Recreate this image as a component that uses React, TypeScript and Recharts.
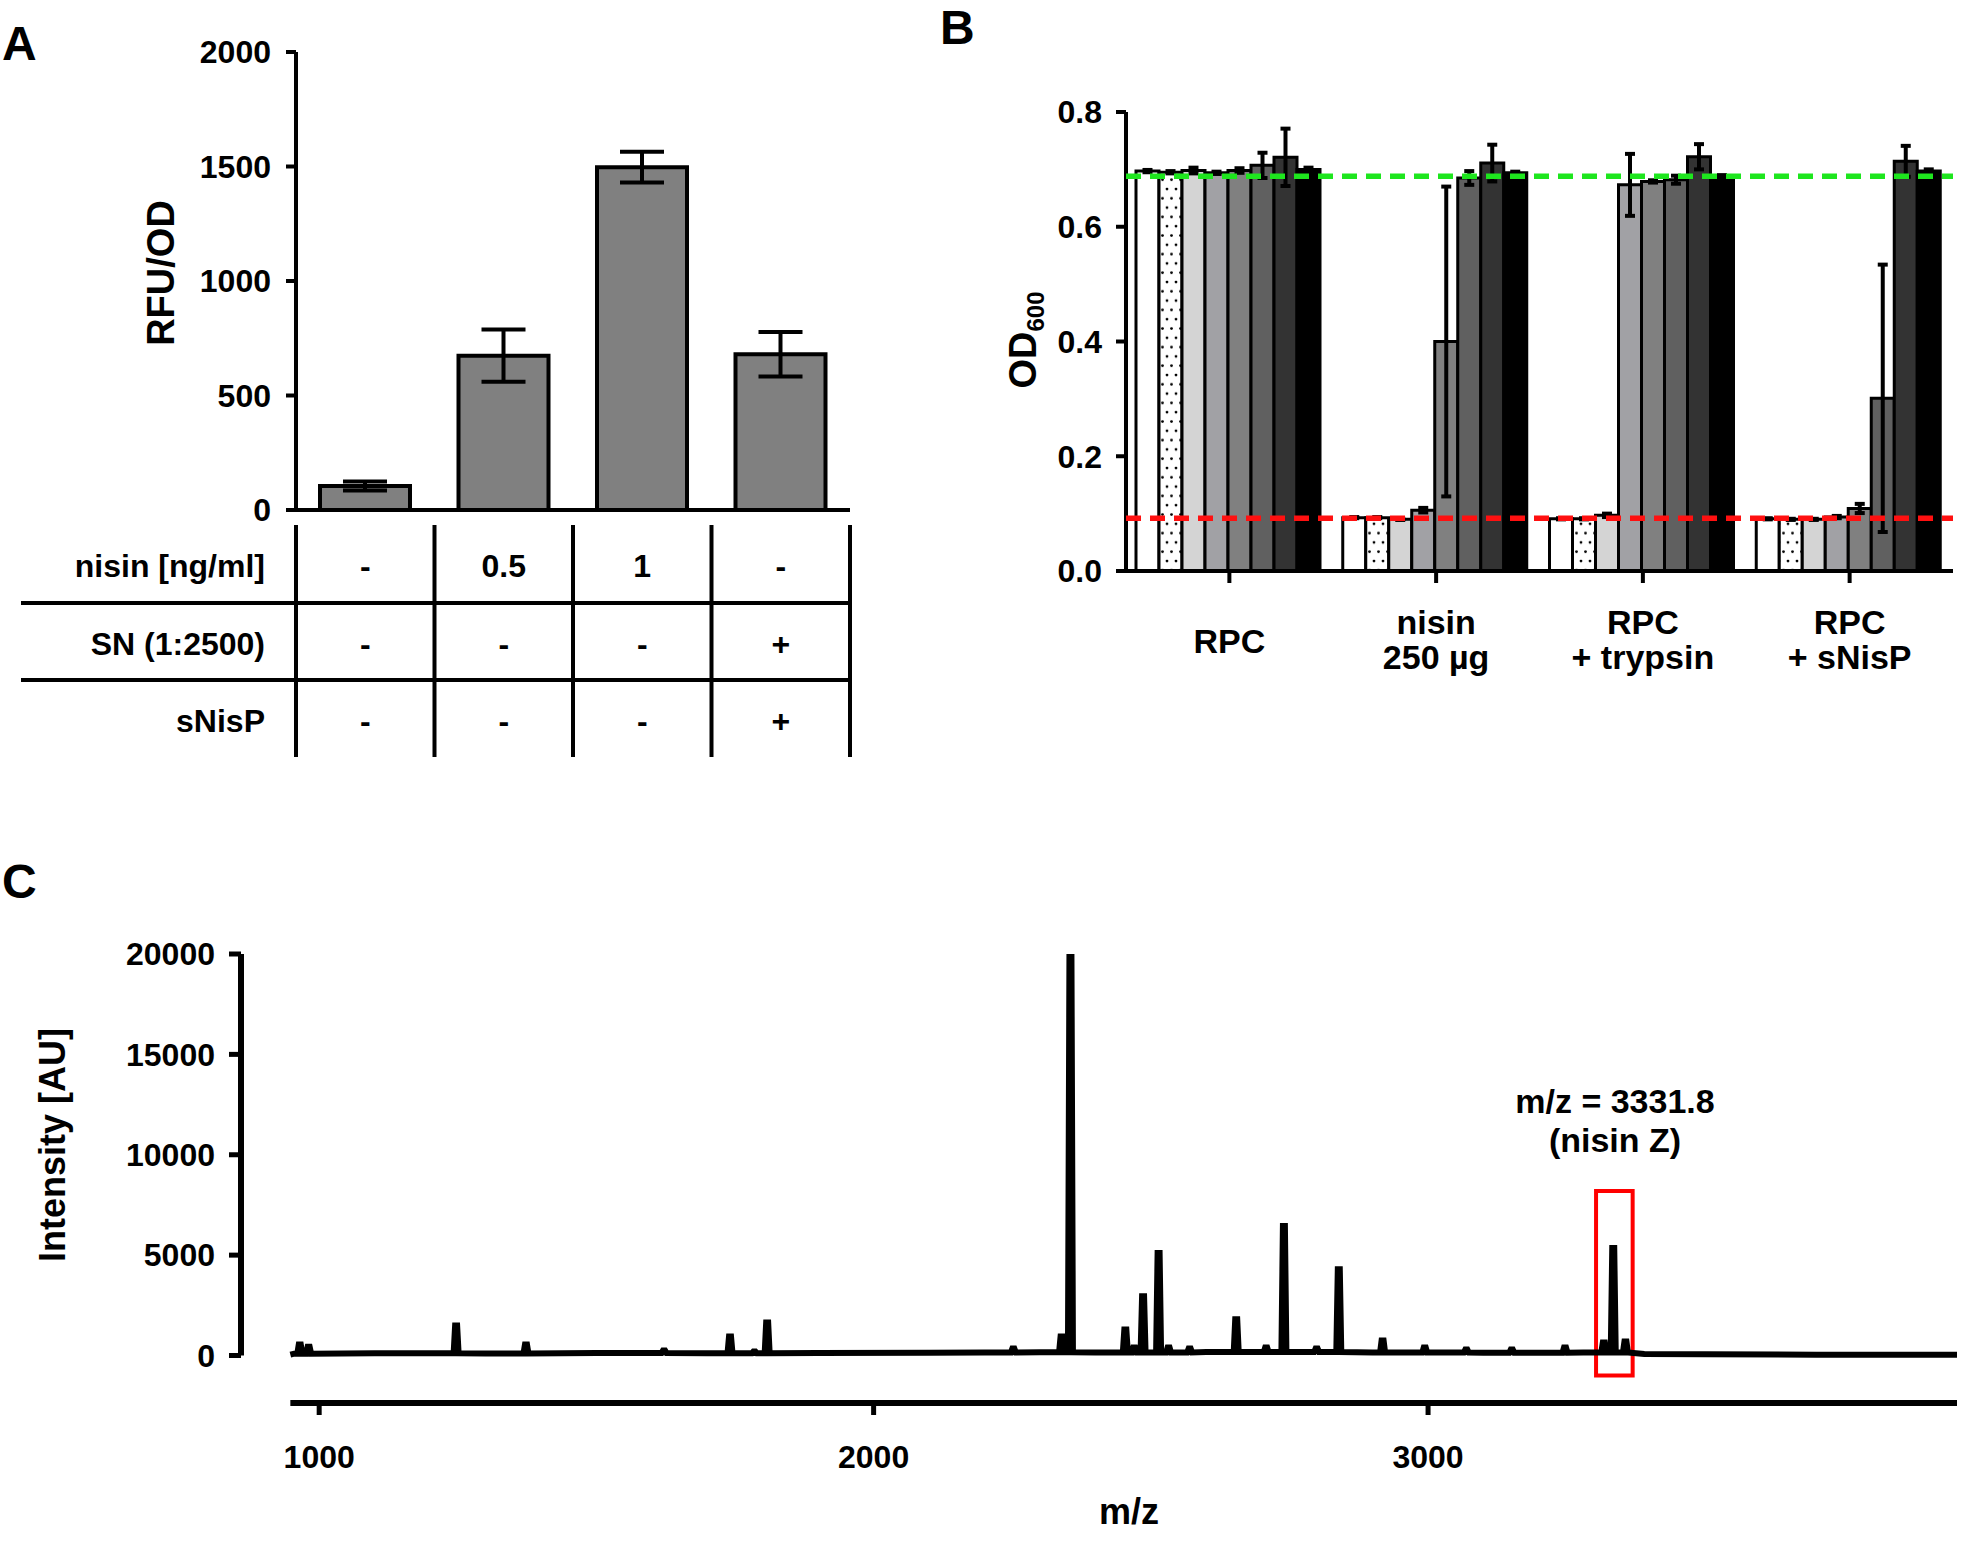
import React from "react";
import {
  BarChart,
  Bar,
  XAxis,
  YAxis,
  ErrorBar,
  ReferenceLine,
  ReferenceArea,
  LineChart,
  Line,
} from "recharts";

const FONT = "'Liberation Sans', Arial, Helvetica, sans-serif";

// ---------- Panel A ----------
const aCategories = ["ctrl", "nisin 0.5", "nisin 1", "SN + sNisP"];
const aValues = [105, 674, 1497, 680];
const aErrors = [20, 114, 67, 97];
const aTicks = [0, 500, 1000, 1500, 2000];

const tableLabels = ["nisin [ng/ml]", "SN (1:2500)", "sNisP"];
const tableNisin = ["-", "0.5", "1", "-"];
const tableSN = ["-", "-", "-", "+"];
const tableSNisP = ["-", "-", "-", "+"];

// ---------- Panel B ----------
const bGroups = ["RPC", "nisin 250 µg", "RPC + trypsin", "RPC + sNisP"];
const bGroupLines = [["RPC"], ["nisin", "250 µg"], ["RPC", "+ trypsin"], ["RPC", "+ sNisP"]];
const bTicks = [0, 0.2, 0.4, 0.6, 0.8];

const bWhite = [0.697, 0.093, 0.091, 0.091];
const bDotted = [0.695, 0.093, 0.091, 0.09];
const bLight = [0.698, 0.09, 0.097, 0.09];
const bGrayA = [0.694, 0.106, 0.673, 0.094];
const bGrayB = [0.698, 0.4, 0.679, 0.109];
const bGrayC = [0.707, 0.685, 0.682, 0.301];
const bDark = [0.721, 0.711, 0.722, 0.714];
const bBlack = [0.7, 0.694, 0.688, 0.697];

const bWhiteErr = [0.002, 0.001, 0.001, 0.001];
const bDottedErr = [0.002, 0.001, 0.001, 0.001];
const bLightErr = [0.005, 0.001, 0.003, 0.001];
const bGrayAErr = [0.002, 0.004, 0.054, 0.002];
const bGrayBErr = [0.004, 0.27, 0.002, 0.008];
const bGrayCErr = [0.022, 0.012, 0.007, 0.233];
const bDarkErr = [0.05, 0.032, 0.022, 0.027];
const bBlackErr = [0.003, 0.002, 0.002, 0.003];

const growthLevel = 0.688;
const noGrowthLevel = 0.092;

// ---------- Panel C ----------
const specBaseline: [number, number][] = [
  [948, 40], [955, 90], [1100, 110], [1300, 100], [1500, 120], [1700, 110],
  [1900, 130], [2100, 140], [2200, 150], [2300, 160], [2400, 150], [2600, 170],
  [2900, 150], [3100, 140], [3280, 150], [3390, 80], [3500, 60], [3700, 40], [3954, 40],
];
const specPeaks: [number, number][] = [
  [965, 550], [981, 430], [1247, 1500], [1373, 550], [1622, 250], [1741, 950],
  [1785, 200], [1808, 1650], [2252, 350], [2339, 950], [2355, 20000], [2454, 1300],
  [2470, 400], [2486, 2950], [2514, 5100], [2532, 400], [2570, 350], [2654, 1800],
  [2708, 400], [2740, 6450], [2799, 350], [2839, 4300], [2918, 750], [2994, 400],
  [3069, 300], [3151, 300], [3247, 400], [3317, 650], [3334, 5350], [3356, 700],
];
const cYTicks = [0, 5000, 10000, 15000, 20000];
const cXTicks = [1000, 2000, 3000];

const aData = aCategories.map((name, i) => ({ name, value: aValues[i], err: aErrors[i] }));

const bSeries = [
  { vals: bWhite, errs: bWhiteErr, fill: "#ffffff" },
  { vals: bDotted, errs: bDottedErr, fill: "url(#dots)" },
  { vals: bLight, errs: bLightErr, fill: "#d4d4d4" },
  { vals: bGrayA, errs: bGrayAErr, fill: "#a1a1a5" },
  { vals: bGrayB, errs: bGrayBErr, fill: "#808080" },
  { vals: bGrayC, errs: bGrayCErr, fill: "#606060" },
  { vals: bDark, errs: bDarkErr, fill: "#333333" },
  { vals: bBlack, errs: bBlackErr, fill: "#000000" },
];

const bData = bGroups.map((group, i) => {
  const row: Record<string, number | string> = { group };
  bSeries.forEach((s, k) => {
    row[`s${k}`] = s.vals[i];
    row[`e${k}`] = s.errs[i];
  });
  return row;
});

function floorAt(mz: number) {
  let v = specBaseline[0][1];
  for (const [m, b] of specBaseline) if (m <= mz) v = b;
  return v;
}

const spectrum = (() => {
  const pts = specBaseline.map(([mz, v]) => ({ mz, intensity: v }));
  specPeaks.forEach(([mz, h]) => {
    const foot = floorAt(mz);
    pts.push(
      { mz: mz - 4.5, intensity: foot },
      { mz: mz - 1.8, intensity: h },
      { mz: mz + 1.8, intensity: h },
      { mz: mz + 4.5, intensity: foot }
    );
  });
  return pts.sort((a, b) => a.mz - b.mz);
})();

const tickStyle = { fontSize: 32, fontWeight: 700, fill: "#000", fontFamily: FONT };
const axisLine4 = { stroke: "#000", strokeWidth: 4 };

function GroupTick(props: any) {
  const { x, y, payload } = props;
  const idx = bGroups.indexOf(payload.value);
  const lines = bGroupLines[idx] || [String(payload.value)];
  const offsets = lines.length === 1 ? [70] : [51, 86];
  return (
    <g>
      {lines.map((l, i) => (
        <text
          key={i}
          x={x}
          y={y + offsets[i]}
          textAnchor="middle"
          fontSize={34}
          fontWeight={700}
          fontFamily={FONT}
          fill="#000"
        >
          {l}
        </text>
      ))}
    </g>
  );
}

const colCenters = [365.25, 503.75, 642.25, 780.75];
const colLines = [296, 434.5, 573, 711.5, 850];
const rowBaselines = [577, 655, 732];

export default function App() {
  return (
    <div
      style={{
        position: "absolute",
        left: 0,
        top: 0,
        width: 1961,
        height: 1541,
        background: "#fff",
        overflow: "hidden",
        fontFamily: FONT,
      }}
    >
      {/* Panel A */}
      <div style={{ position: "absolute", left: 0, top: 0 }}>
        <BarChart
          width={870}
          height={560}
          data={aData}
          margin={{ top: 52, right: 20, bottom: 20, left: 216 }}
          barSize={90}
        >
          <XAxis
            dataKey="name"
            axisLine={axisLine4}
            tickLine={axisLine4}
            tickSize={12}
            tick={false}
            height={30}
          />
          <YAxis
            width={80}
            domain={[0, 2000]}
            ticks={aTicks}
            interval={0}
            axisLine={axisLine4}
            tickLine={axisLine4}
            tickSize={10}
            tickMargin={15}
            tick={tickStyle}
          />
          <Bar dataKey="value" fill="#808080" stroke="#000" strokeWidth={4} isAnimationActive={false}>
            <ErrorBar dataKey="err" width={22} stroke="#000" strokeWidth={4} />
          </Bar>
        </BarChart>
      </div>

      {/* Panel B */}
      <div style={{ position: "absolute", left: 940, top: 0 }}>
        <BarChart
          width={1021}
          height={700}
          data={bData}
          margin={{ top: 112, right: 8, bottom: 0, left: 96 }}
          barCategoryGap={10}
          barGap={0}
        >
          <defs>
            <pattern id="dots" width="9" height="18.6" patternUnits="userSpaceOnUse">
              <rect width="9" height="18.6" fill="#fff" />
              <circle cx="2" cy="3" r="1.4" fill="#000" />
              <circle cx="6.5" cy="12.3" r="1.4" fill="#000" />
            </pattern>
          </defs>
          <XAxis
            dataKey="group"
            axisLine={axisLine4}
            tickLine={axisLine4}
            tickSize={12}
            tickMargin={0}
            height={129}
            interval={0}
            tick={(p: any) => <GroupTick {...p} />}
          />
          <YAxis
            width={90}
            domain={[0, 0.8]}
            ticks={bTicks}
            interval={0}
            axisLine={axisLine4}
            tickLine={axisLine4}
            tickSize={10}
            tickMargin={14}
            tick={tickStyle}
            tickFormatter={(v: number) => v.toFixed(1)}
          />
          {bSeries.map((s, k) => (
            <Bar
              key={k}
              dataKey={`s${k}`}
              fill={s.fill}
              stroke="#000"
              strokeWidth={3}
              isAnimationActive={false}
            >
              <ErrorBar dataKey={`e${k}`} width={5} stroke="#000" strokeWidth={4} />
            </Bar>
          ))}
          <ReferenceLine
            y={growthLevel}
            stroke="#1ee61e"
            strokeWidth={5.5}
            strokeDasharray="15 9"
            zIndex={900}
          />
          <ReferenceLine
            y={noGrowthLevel}
            stroke="#ff1010"
            strokeWidth={5.5}
            strokeDasharray="15 9"
            zIndex={900}
          />
        </BarChart>
      </div>

      {/* Panel C */}
      <div style={{ position: "absolute", left: 0, top: 860 }}>
        <LineChart
          width={1961}
          height={681}
          data={spectrum}
          margin={{ top: 94, right: 4, bottom: 78, left: 121 }}
        >
          <XAxis
            dataKey="mz"
            type="number"
            domain={[859, 3954]}
            allowDataOverflow
            ticks={cXTicks}
            interval={0}
            axisLine={false}
            tickLine={{ stroke: "#000", strokeWidth: 5 }}
            tickSize={12}
            tickMargin={30}
            height={60}
            tick={tickStyle}
          />
          <YAxis
            type="number"
            width={120}
            domain={[-2366, 20000]}
            allowDataOverflow
            ticks={cYTicks}
            interval={0}
            axisLine={false}
            tickLine={{ stroke: "#000", strokeWidth: 5 }}
            tickSize={12}
            tickMargin={14}
            tick={tickStyle}
          />
          <ReferenceLine
            segment={[
              { x: 859, y: 0 },
              { x: 859, y: 20000 },
            ]}
            stroke="#000"
            strokeWidth={6}
            ifOverflow="visible"
          />
          <ReferenceLine
            segment={[
              { x: 948, y: -2366 },
              { x: 3954, y: -2366 },
            ]}
            stroke="#000"
            strokeWidth={6}
            ifOverflow="visible"
          />
          <Line
            type="linear"
            dataKey="intensity"
            stroke="#000"
            strokeWidth={6}
            dot={false}
            isAnimationActive={false}
          />
          <ReferenceArea
            x1={3303}
            x2={3369}
            y1={-1000}
            y2={8200}
            fill="none"
            fillOpacity={0}
            stroke="#ff0000"
            strokeWidth={4}
            ifOverflow="visible"
          />
        </LineChart>
      </div>

      {/* Overlay: panel letters, axis titles, table, annotation */}
      <svg
        width={1961}
        height={1541}
        style={{ position: "absolute", left: 0, top: 0, pointerEvents: "none" }}
        fontFamily={FONT}
        fontWeight={700}
        fill="#000"
      >
        <text x={2} y={60} fontSize={48}>A</text>
        <text x={940} y={44} fontSize={48}>B</text>
        <text x={2} y={898} fontSize={48}>C</text>

        <text transform="translate(174,273) rotate(-90)" textAnchor="middle" fontSize={38}>
          RFU/OD
        </text>
        <text transform="translate(1036,340) rotate(-90)" textAnchor="middle" fontSize={38}>
          OD
          <tspan fontSize={24} dy={8}>600</tspan>
        </text>
        <text transform="translate(65,1145) rotate(-90)" textAnchor="middle" fontSize={36}>
          Intensity [AU]
        </text>
        <text x={1129} y={1524} textAnchor="middle" fontSize={36}>m/z</text>

        <text x={1615} y={1113} textAnchor="middle" fontSize={34}>m/z = 3331.8</text>
        <text x={1615} y={1152} textAnchor="middle" fontSize={34}>(nisin Z)</text>

        {/* table under panel A */}
        {colLines.map((x, i) => (
          <line key={`v${i}`} x1={x} x2={x} y1={525} y2={757} stroke="#000" strokeWidth={4} />
        ))}
        <line x1={21} x2={850} y1={603} y2={603} stroke="#000" strokeWidth={4} />
        <line x1={21} x2={850} y1={680} y2={680} stroke="#000" strokeWidth={4} />
        {tableLabels.map((l, r) => (
          <text key={`l${r}`} x={265} y={rowBaselines[r]} textAnchor="end" fontSize={32}>
            {l}
          </text>
        ))}
        {[tableNisin, tableSN, tableSNisP].map((row, r) =>
          row.map((c, i) => (
            <text
              key={`c${r}-${i}`}
              x={colCenters[i]}
              y={rowBaselines[r]}
              textAnchor="middle"
              fontSize={32}
            >
              {c}
            </text>
          ))
        )}
      </svg>
    </div>
  );
}
